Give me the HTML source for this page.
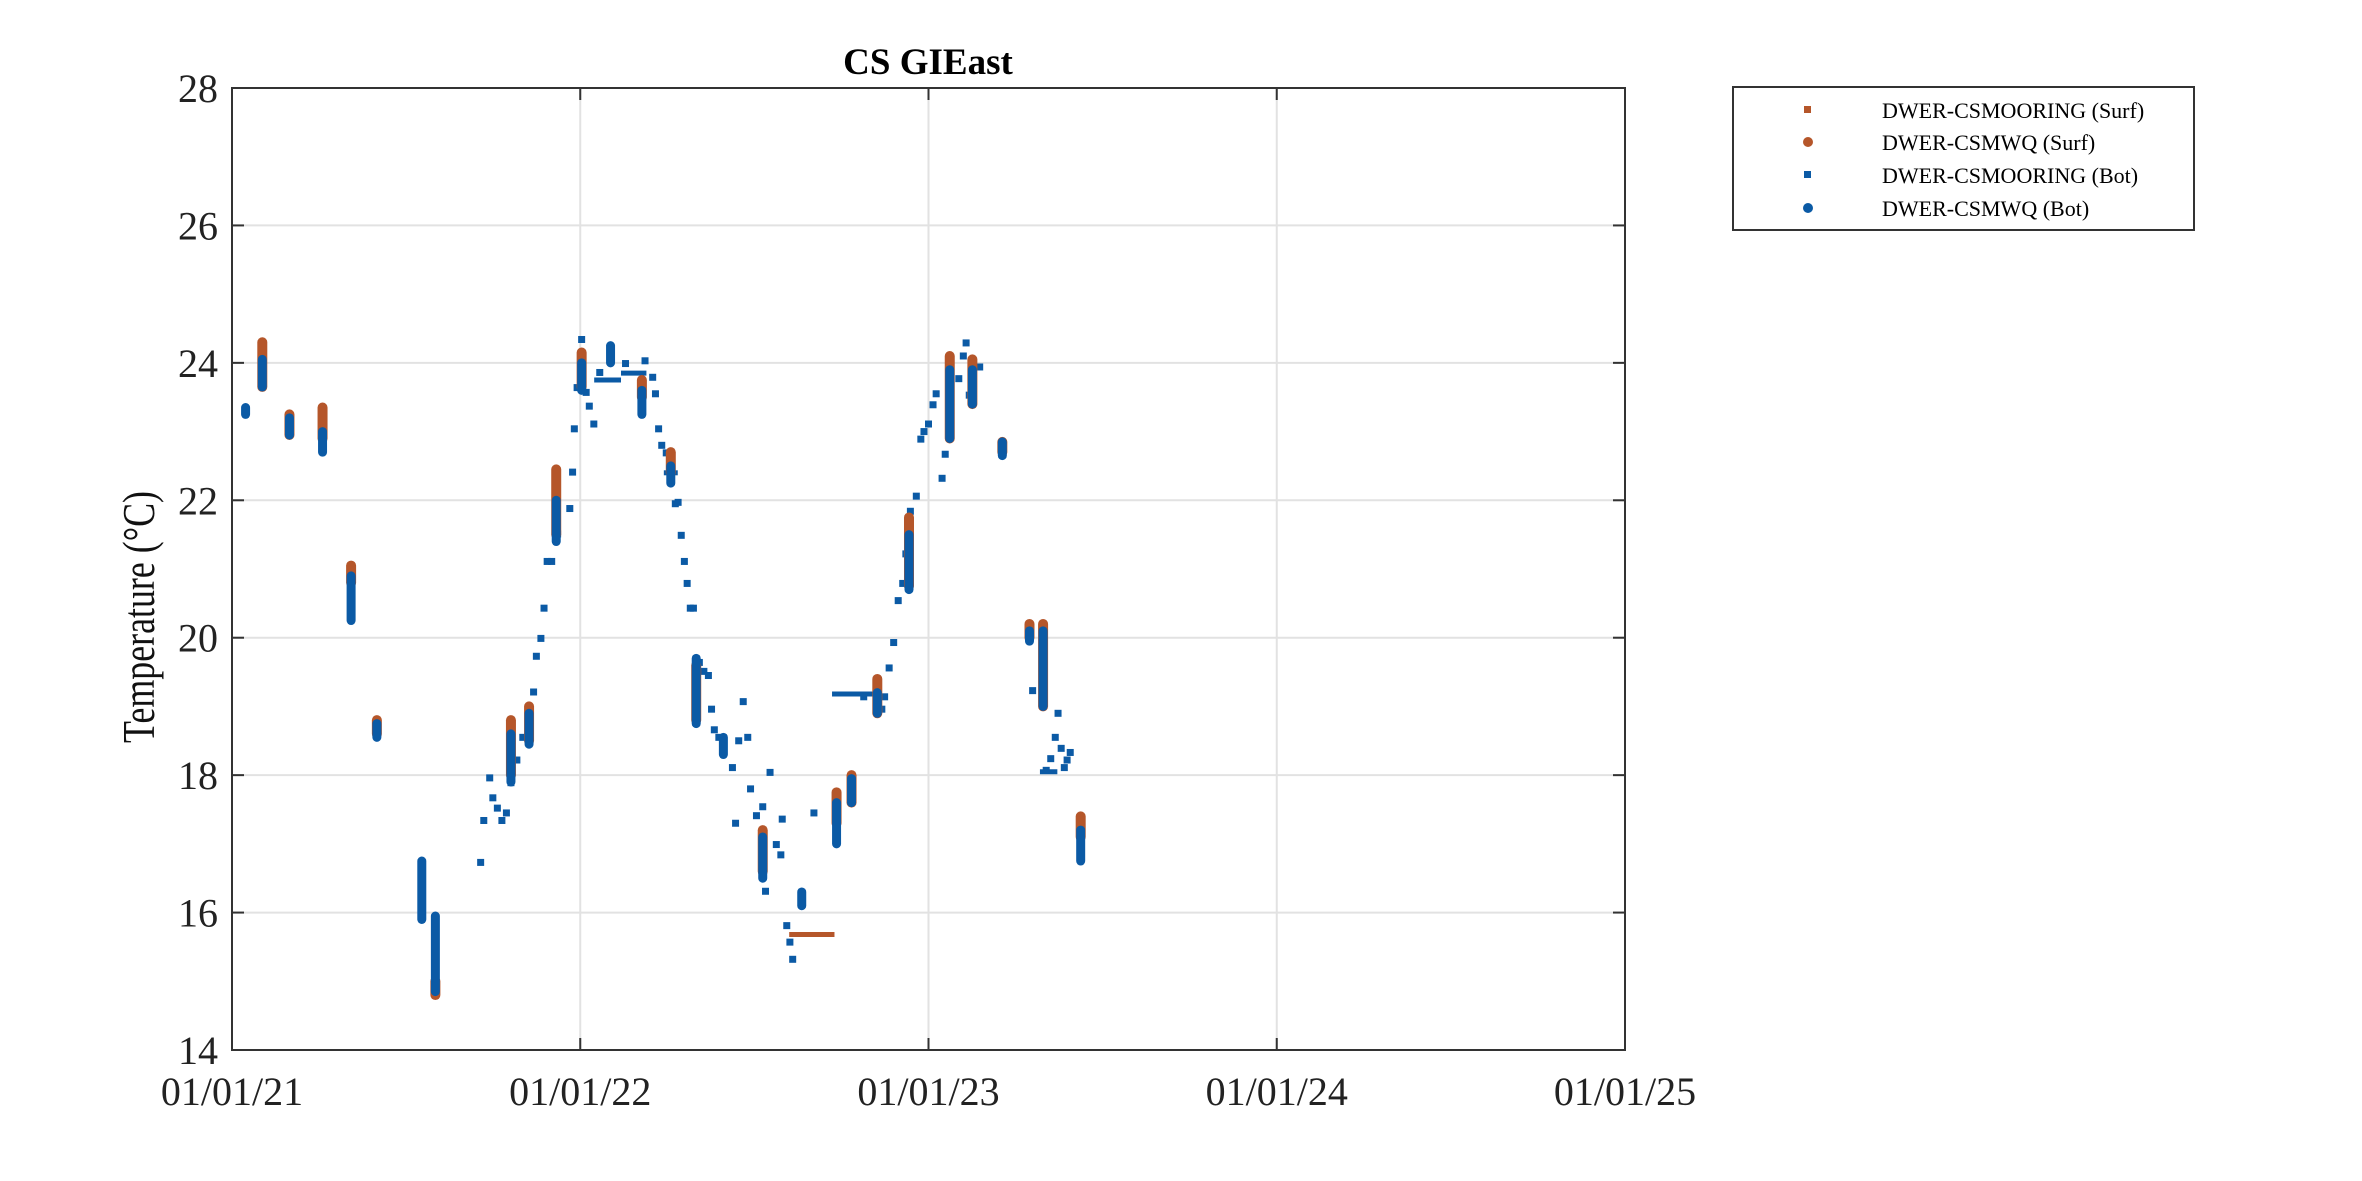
<!DOCTYPE html>
<html><head><meta charset="utf-8"><style>
body{margin:0;background:#fff}
svg{display:block;font-family:"Liberation Serif",serif}
</style></head><body>
<svg id="c" width="2362" height="1181" viewBox="0 0 2362 1181">
<rect width="2362" height="1181" fill="#fff"/>
<g id="grid"></g><g id="marks"></g><g id="axes"></g>
<text x="928" y="74" text-anchor="middle" font-size="37" font-weight="bold" fill="#000">CS GIEast</text>
<text transform="translate(154,617) rotate(-90) scale(0.78,1)" text-anchor="middle" font-size="46" fill="#111">Temperature (°C)</text>
<g>
<rect x="1733" y="87" width="461" height="143" fill="#fff" stroke="#333" stroke-width="2"/>
<g><rect x="1804" y="106" width="7" height="7" fill="#b5562a"/><text x="1882" y="118" font-size="22">DWER-CSMOORING (Surf)</text></g>
<g><circle cx="1808" cy="142" r="5" fill="#b5562a"/><text x="1882" y="150" font-size="22">DWER-CSMWQ (Surf)</text></g>
<g><rect x="1804" y="171" width="7" height="7" fill="#0b5aa5"/><text x="1882" y="183" font-size="22">DWER-CSMOORING (Bot)</text></g>
<g><circle cx="1808" cy="208" r="5" fill="#0b5aa5"/><text x="1882" y="216" font-size="22">DWER-CSMWQ (Bot)</text></g>
</g>
</svg>
<script>
const xTickLabels=["01/01/21","01/01/22","01/01/23","01/01/24","01/01/25"];
const yTicks=[14,16,18,20,22,24,26,28];
// profile (CSMWQ) data: years since 2021-01-01
const profDates=[0.039,0.087,0.165,0.260,0.342,0.416,0.545,0.584,0.801,0.853,0.931,1.004,1.087,1.177,1.260,1.333,1.411,1.524,1.636,1.736,1.779,1.853,1.944,2.061,2.126,2.212,2.290,2.329,2.437];
const surfMin=[NaN,23.65,22.95,22.9,20.8,18.6,NaN,14.8,18.0,18.5,21.5,23.65,NaN,23.5,22.4,18.8,NaN,16.6,NaN,17.3,17.6,18.9,20.75,22.9,23.4,22.7,20.0,19.0,17.1];
const surfMax=[NaN,24.3,23.25,23.35,21.05,18.8,NaN,15.0,18.8,19.0,22.45,24.15,NaN,23.75,22.7,19.6,NaN,17.2,NaN,17.75,18.0,19.4,21.75,24.1,24.05,22.85,20.2,20.2,17.4];
const botMin=[23.25,23.65,22.95,22.7,20.25,18.55,15.9,14.85,17.9,18.45,21.4,23.6,24.0,23.25,22.25,18.75,18.3,16.5,16.1,17.0,17.6,18.9,20.7,22.9,23.4,22.65,19.95,19.0,16.75];
const botMax=[23.35,24.05,23.2,23.0,20.9,18.75,16.75,15.95,18.6,18.9,22.0,24.0,24.25,23.6,22.5,19.7,18.55,17.1,16.3,17.6,17.95,19.2,21.5,23.9,23.9,22.85,20.1,20.1,17.2];
// mooring bottom scattered points
const moorBotDates=[0.714,0.723,0.740,0.749,0.762,0.775,0.788,0.801,0.818,0.835,0.866,0.874,0.887,0.896,0.905,0.918,0.935,0.970,0.978,0.983,0.991,1.004,1.017,1.026,1.039,1.056,1.130,1.186,1.208,1.216,1.225,1.234,1.247,1.273,1.281,1.290,1.299,1.307,1.316,1.325,1.342,1.355,1.368,1.377,1.385,1.398,1.411,1.437,1.446,1.455,1.468,1.481,1.489,1.506,1.524,1.532,1.545,1.563,1.576,1.580,1.593,1.602,1.610,1.671,1.814,1.866,1.874,1.887,1.900,1.913,1.926,1.935,1.948,1.965,1.978,1.987,2.000,2.013,2.022,2.039,2.048,2.087,2.100,2.108,2.117,2.147,2.299,2.329,2.338,2.351,2.364,2.372,2.381,2.390,2.398,2.407];
const moorBotTemps=[16.73,17.34,17.96,17.67,17.52,17.34,17.45,17.89,18.22,18.55,19.21,19.73,19.99,20.43,21.11,21.11,21.51,21.88,22.41,23.04,23.64,24.34,23.57,23.37,23.11,23.86,23.99,24.03,23.79,23.55,23.04,22.80,22.69,21.95,21.97,21.49,21.11,20.79,20.43,20.43,19.64,19.51,19.45,18.96,18.66,18.55,18.39,18.11,17.30,18.50,19.07,18.55,17.80,17.41,17.54,16.31,18.04,16.99,16.84,17.36,15.81,15.57,15.32,17.45,19.14,18.96,19.14,19.56,19.93,20.54,20.79,21.22,21.84,22.06,22.89,23.00,23.11,23.39,23.55,22.32,22.67,23.77,24.10,24.29,23.53,23.94,19.23,19.21,18.07,18.24,18.55,18.90,18.39,18.11,18.22,18.33];
// continuous mooring runs
const botRunStart=[1.04,1.117,1.24,1.723,2.32];
const botRunEnd=[1.117,1.19,1.28,1.853,2.37];
const botRunTemp=[23.75,23.85,22.4,19.18,18.05];
const surfRunStart=[1.60];
const surfRunEnd=[1.73];
const surfRunTemp=[15.68];

const L=232,R=1625,T=88,B=1050,ymin=14,ymax=28,xmax=4;
const X=t=>L+t/xmax*(R-L);
const Y=v=>B-(v-ymin)/(ymax-ymin)*(B-T);
const NS="http://www.w3.org/2000/svg";
function mk(tag,attrs,parent){const e=document.createElementNS(NS,tag);for(const k in attrs)e.setAttribute(k,attrs[k]);parent.appendChild(e);return e;}
const grid=document.getElementById('grid'),marks=document.getElementById('marks'),axes=document.getElementById('axes');
const OR="#b5562a",BL="#0b5aa5";
yTicks.forEach(v=>{
  const g=mk('line',{x1:L,x2:R,y1:Y(v),y2:Y(v),stroke:"#e2e2e2","stroke-width":2},grid);
  
  
  mk('line',{x1:L,x2:L+12,y1:Y(v),y2:Y(v),stroke:"#333","stroke-width":2},axes);
  mk('line',{x1:R,x2:R-12,y1:Y(v),y2:Y(v),stroke:"#333","stroke-width":2},axes);
  const t=mk('text',{x:L-14,y:Y(v)+14,"text-anchor":"end","font-size":40,fill:"#222"},axes);
  t.textContent=v;
  
  
});
xTickLabels.forEach((s,i)=>{
  const x=X(i);
  const g=mk('line',{x1:x,x2:x,y1:T,y2:B,stroke:"#e2e2e2","stroke-width":2},grid);
  
  
  mk('line',{x1:x,x2:x,y1:B,y2:B-12,stroke:"#333","stroke-width":2},axes);
  mk('line',{x1:x,x2:x,y1:T,y2:T+12,stroke:"#333","stroke-width":2},axes);
  const t=mk('text',{x:x,y:1105,"text-anchor":"middle","font-size":40,fill:"#222"},axes);
  t.textContent=s;
  
  
});
const fr=mk('rect',{x:L,y:T,width:R-L,height:B-T,fill:"none",stroke:"#333","stroke-width":2},axes);


surfRunStart.forEach((s,i)=>{
  const l=mk('line',{x1:X(s),x2:X(surfRunEnd[i]),y1:Y(surfRunTemp[i]),y2:Y(surfRunTemp[i]),stroke:OR,"stroke-width":5},marks);
  
  
});
botRunStart.forEach((s,i)=>{
  const l=mk('line',{x1:X(s),x2:X(botRunEnd[i]),y1:Y(botRunTemp[i]),y2:Y(botRunTemp[i]),stroke:BL,"stroke-width":5},marks);
  
  
});
moorBotDates.forEach((d,i)=>{
  const r=mk('rect',{x:X(d)-3.5,y:Y(moorBotTemps[i])-3.5,width:7,height:7,fill:BL},marks);
  
  
});
profDates.forEach((d,i)=>{
  if(!isNaN(surfMin[i])){
    const l=mk('line',{x1:X(d),x2:X(d),y1:Y(surfMin[i]),y2:Y(surfMax[i]),stroke:OR,"stroke-width":10,"stroke-linecap":"round"},marks);
    
    
  }
});
profDates.forEach((d,i)=>{
  const l=mk('line',{x1:X(d),x2:X(d),y1:Y(botMin[i]),y2:Y(botMax[i]),stroke:BL,"stroke-width":9,"stroke-linecap":"round"},marks);
  
  
});
</script>
</body></html>
